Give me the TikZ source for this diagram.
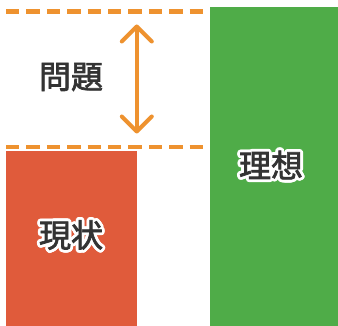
\documentclass[tikz,border=0pt]{standalone}
\usepackage{fontspec}
\newfontfamily\cjk[FakeBold=2.2]{Noto Sans CJK JP}
\usetikzlibrary{arrows.meta}
\definecolor{orng}{HTML}{EE922F}
\definecolor{redb}{HTML}{E05B3B}
\definecolor{grnb}{HTML}{4FAC48}
\definecolor{txt}{HTML}{333333}
\tikzset{
  lbl/.style={inner sep=0pt,text=txt,font=\cjk\fontsize{32pt}{32pt}\selectfont},
  dashln/.style={draw=orng,line width=4.4pt,dash pattern=on 13.3pt off 7.1pt},
  dblarrow/.style={draw=orng,line width=4pt,{Straight Barb[length=15pt,width=30pt,line cap=round,line join=round]}-{Straight Barb[length=15pt,width=30pt,line cap=round,line join=round]}},
  bar/.style={inner sep=0pt,outer sep=0pt,draw=none}
}
\newcommand{\halotext}[1]{%
  \foreach \a in {0,22.5,...,337.5}{%
    \pgfmathsetmacro\hdx{2.8*cos(\a)}\pgfmathsetmacro\hdy{2.8*sin(\a)}%
    \rlap{\kern\hdx pt\raisebox{\hdy pt}{\color{white}#1}}}%
  \foreach \a in {0,45,...,315}{%
    \pgfmathsetmacro\hdx{1.5*cos(\a)}\pgfmathsetmacro\hdy{1.5*sin(\a)}%
    \rlap{\kern\hdx pt\raisebox{\hdy pt}{\color{white}#1}}}%
  #1}
\begin{document}
\begin{tikzpicture}[x=1pt,y=-1pt]
\useasboundingbox (0,0) rectangle (338,326);
\fill[white] (0,0) rectangle (338,326);
% bars
\node[bar,fill=redb,minimum width=131pt,minimum height=175pt] (now) at (71.5,238.5) {};
\node[bar,fill=grnb,minimum width=128pt,minimum height=319pt] (ideal) at (274,166.5) {};
% dashed lines
\coordinate (tl) at (6,11.7);
\coordinate (tr) at (203,11.7);
\coordinate (bl) at (6,147.3);
\coordinate (br) at (203,147.3);
\draw[dashln] (tl) -- (tr);
\draw[dashln] (bl) -- (br);
% arrow
\coordinate (at) at (136.8,24.5);
\coordinate (ab) at (136.8,133.5);
\draw[dblarrow] (at) -- (ab);
% labels
\node[lbl] (prob) at (71,77) {問題};
\node[lbl] (nowlbl) at (71,235) {\halotext{現状}};
\node[lbl] (ideallbl) at (271,165) {\halotext{理想}};
\end{tikzpicture}
\end{document}
